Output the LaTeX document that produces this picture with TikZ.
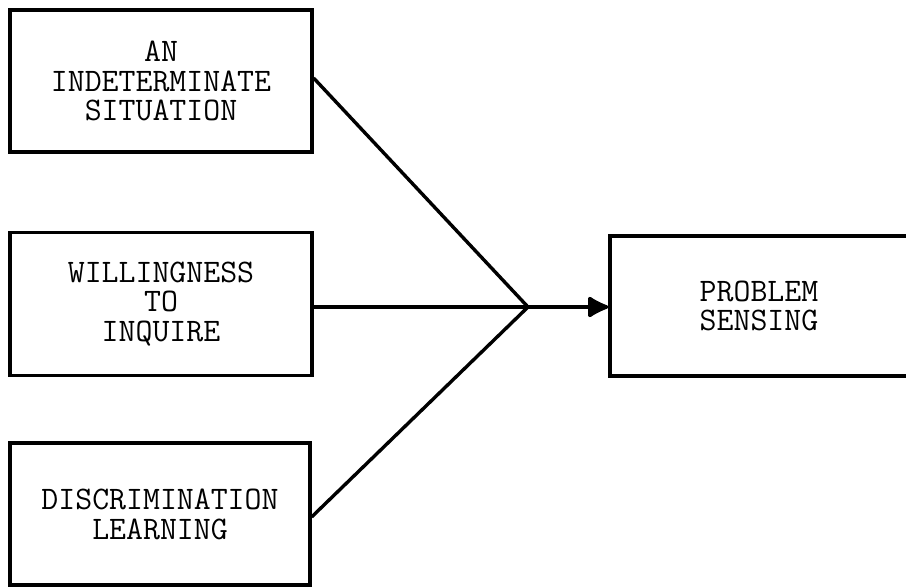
\documentclass[tikz,border=0pt]{standalone}
\usepackage{fontspec}
\setmonofont{Latin Modern Mono}
\usetikzlibrary{arrows.meta,calc}
\begin{document}
\begin{tikzpicture}[x=1bp,y=-1bp,
  box/.style={draw=black,line width=3.2bp,rectangle,inner sep=0pt,align=center,
    font=\ttfamily\fontsize{33}{30}\selectfont},
  conn/.style={draw=black,line width=3.4bp}]
\useasboundingbox (0,0) rectangle (906,587);
\node[box,minimum width=302bp,minimum height=142bp] (b1) at (161,81) {AN\\INDETERMINATE\\SITUATION};
\node[box,minimum width=302bp,minimum height=143bp] (b2) at (161,304) {WILLINGNESS\\TO\\INQUIRE};
\node[box,minimum width=300bp,minimum height=142bp] (b3) at (160,514) {DISCRIMINATION\\LEARNING};
\node[box,minimum width=298bp,minimum height=140bp] (ps) at (759,306) {PROBLEM\\SENSING};
\coordinate (J) at (528,307);
\draw[conn] ($(b1.east)+(0,-3)$) -- (J);
\draw[conn] (b2.east |- J) -- (J);
\draw[conn] ($(b3.east)+(0,3)$) -- (J);
\draw[conn,-{Latex[length=24bp,width=24bp,round]}] (J) -- (ps.west |- J);
\end{tikzpicture}
\end{document}
